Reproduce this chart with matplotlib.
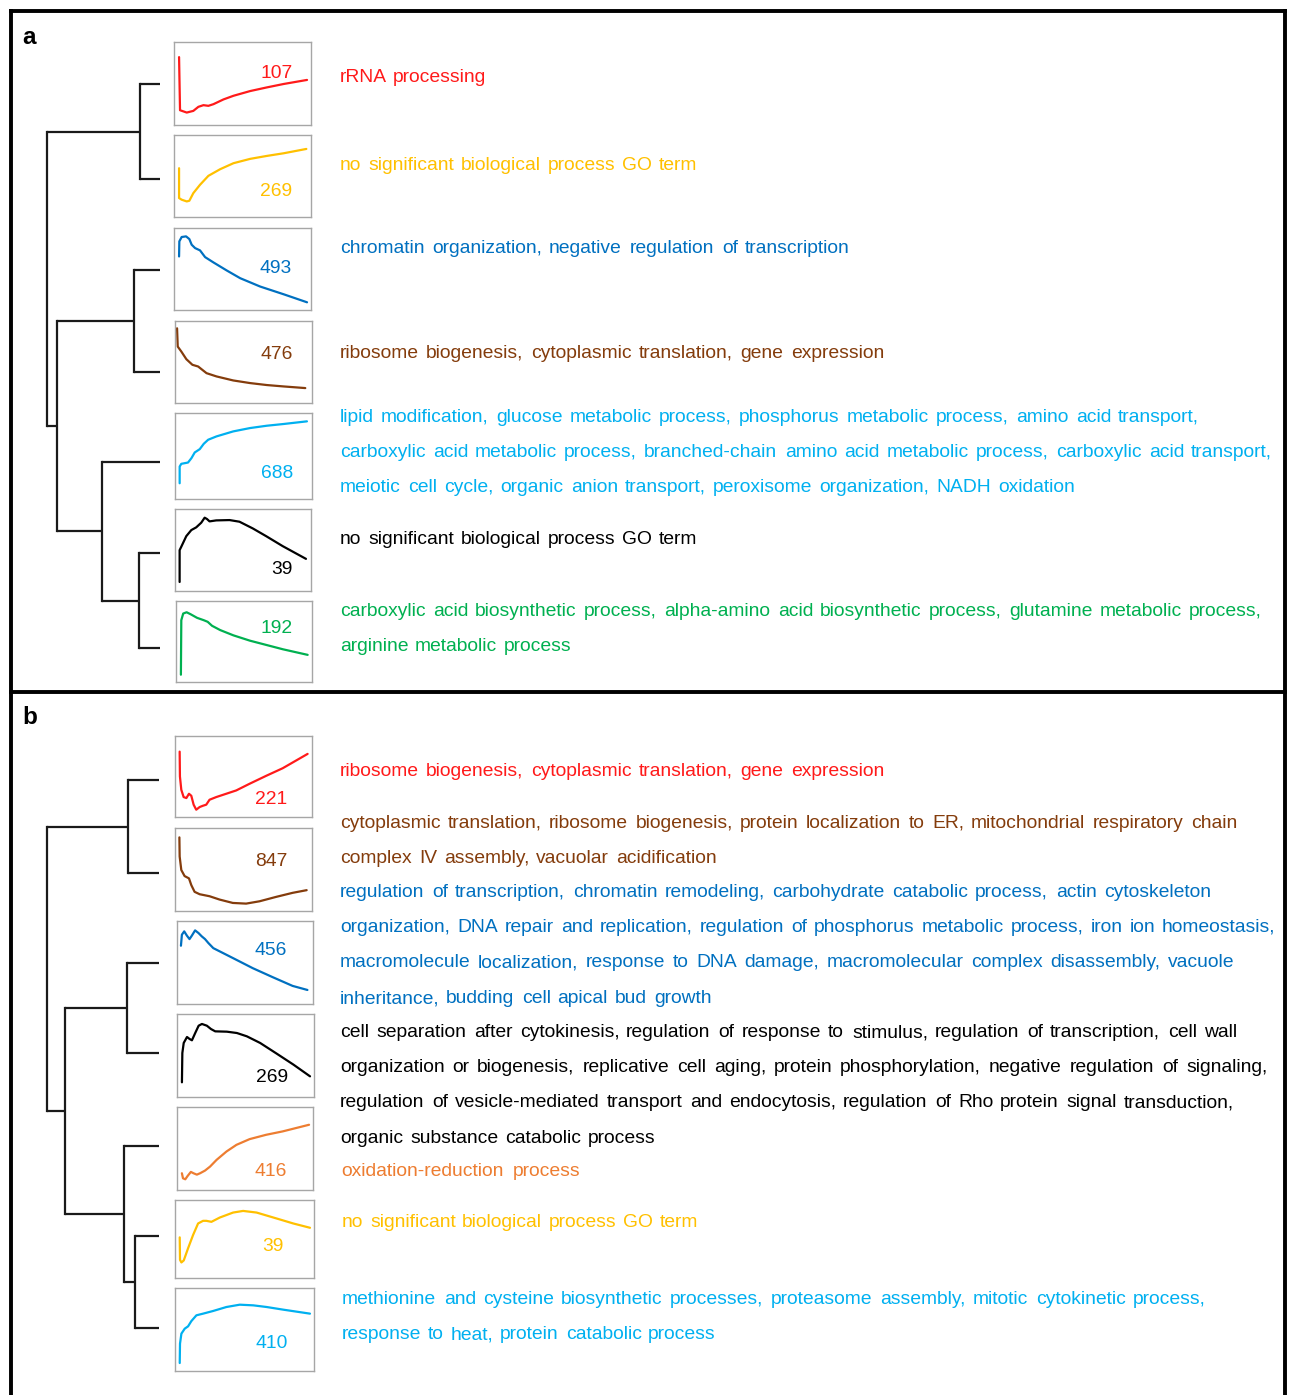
import matplotlib
matplotlib.use("Agg")
import matplotlib.pyplot as plt

plt.rcParams['font.family'] = ['Liberation Sans', 'DejaVu Sans']

W, H = 1293, 1395

RED = '#FF1A1A'
GOLD = '#FFC000'
BLUE = '#0070C0'
BROWN = '#843C0C'
CYAN = '#00B0F0'
GREEN = '#00B050'
ORANGE = '#ED7D31'
BLACK = '#000000'

# ---- panel a : mean expression profile of each cluster (time %, level %) ----
a1_t = [3.7, 4.4, 9.3, 14.1, 17.8, 21.5, 25.1, 28.8, 36.1, 43.4, 55.6, 67.8, 80.0, 97.1]
a1_v = [81.8, 17.8, 15.0, 17.0, 21.9, 23.9, 23.1, 25.1, 30.8, 35.2, 40.9, 45.3, 49.4, 54.3]
a2_t = [3.7, 3.7, 5.6, 9.3, 11.2, 14.1, 19.0, 25.1, 33.7, 43.4, 55.6, 67.8, 80.0, 96.6]
a2_v = [59.5, 23.1, 21.1, 19.0, 19.8, 29.1, 39.3, 50.2, 58.3, 65.6, 70.9, 74.5, 77.7, 83.0]
a3_t = [3.7, 3.9, 5.6, 8.8, 11.2, 12.9, 15.4, 19.0, 22.7, 28.8, 38.5, 48.3, 62.9, 80.0, 97.1]
a3_v = [65.3, 83.7, 89.0, 89.8, 86.5, 79.6, 75.5, 72.7, 64.5, 58.0, 48.2, 38.8, 28.6, 19.2, 9.4]
a4_t = [1.5, 2.0, 4.6, 8.3, 12.7, 16.9, 19.3, 23.0, 30.3, 42.5, 54.8, 67.0, 79.2, 95.1]
a4_v = [91.1, 68.8, 62.8, 53.4, 46.6, 44.5, 41.3, 36.4, 32.4, 27.5, 24.3, 21.9, 20.2, 18.2]
a5_t = [3.4, 3.4, 4.6, 9.5, 12.0, 14.4, 18.1, 21.0, 24.2, 30.3, 42.5, 54.8, 67.0, 79.2, 96.3]
a5_v = [18.3, 37.7, 40.9, 42.4, 47.5, 54.1, 58.0, 64.2, 68.9, 72.8, 78.6, 82.5, 85.2, 87.2, 90.3]
a6_t = [3.4, 3.4, 4.6, 8.3, 12.0, 15.6, 19.3, 21.8, 23.5, 25.4, 30.3, 40.1, 47.4, 57.2, 67.0, 79.2, 96.3]
a6_v = [11.0, 49.8, 53.9, 66.9, 74.3, 77.6, 83.3, 89.4, 87.8, 84.9, 86.1, 86.5, 84.5, 76.3, 66.9, 54.7, 39.2]
a7_t = [3.6, 3.9, 5.3, 7.8, 10.7, 15.5, 20.4, 23.3, 26.5, 32.5, 42.2, 54.4, 66.5, 78.6, 96.8]
a7_v = [9.0, 76.3, 84.5, 86.1, 83.7, 79.2, 76.3, 74.3, 69.4, 64.1, 57.6, 51.0, 45.7, 40.4, 33.5]

# ---- panel b ----
b1_t = [3.4, 3.6, 4.6, 6.3, 8.3, 10.2, 11.9, 13.6, 15.5, 18.0, 20.4, 22.8, 25.2, 30.1, 37.4, 44.7, 54.4, 66.5, 78.6, 96.8]
b1_v = [80.7, 50.0, 33.6, 24.6, 23.4, 28.7, 26.2, 15.2, 9.0, 12.3, 13.9, 15.2, 21.3, 24.6, 28.7, 32.8, 41.0, 50.8, 60.2, 77.9]
b2_t = [3.2, 3.4, 4.6, 7.0, 10.2, 11.9, 14.3, 18.0, 25.2, 32.5, 42.2, 51.9, 61.7, 73.8, 85.9, 96.1]
b2_v = [88.7, 65.6, 49.4, 42.1, 39.3, 31.2, 23.1, 20.2, 17.8, 13.8, 9.7, 8.9, 11.7, 17.0, 21.9, 25.1]
b3_t = [2.9, 3.6, 5.3, 7.3, 9.2, 10.9, 13.3, 15.8, 18.2, 20.6, 23.1, 26.7, 41.3, 55.8, 70.4, 85.0, 95.9]
b3_v = [70.2, 83.5, 87.5, 82.3, 78.2, 82.3, 88.7, 85.5, 81.5, 78.2, 73.4, 67.3, 55.2, 43.1, 32.3, 21.8, 16.9]
b4_t = [3.6, 3.9, 4.9, 7.3, 9.2, 10.9, 13.3, 15.8, 18.2, 21.8, 24.8, 27.9, 36.4, 43.7, 51.0, 60.7, 72.8, 85.0, 97.1]
b4_v = [17.7, 53.0, 65.1, 72.3, 69.9, 68.3, 77.1, 85.9, 88.0, 85.9, 81.9, 79.1, 78.7, 77.1, 73.1, 65.1, 52.2, 39.0, 24.9]
b5_t = [3.6, 4.4, 6.1, 7.8, 10.2, 12.1, 14.6, 17.0, 20.6, 24.3, 29.1, 36.4, 43.7, 53.4, 65.5, 77.7, 97.1]
b5_v = [20.2, 14.1, 12.9, 16.9, 21.8, 20.2, 18.5, 20.2, 23.4, 28.2, 36.3, 46.4, 54.4, 61.3, 66.5, 70.6, 78.6]
b6_t = [3.4, 3.6, 4.6, 6.3, 9.4, 13.0, 16.6, 20.2, 22.6, 26.2, 32.2, 41.8, 49.0, 58.7, 73.1, 85.1, 97.1]
b6_v = [52.1, 23.3, 19.9, 22.5, 38.1, 55.1, 69.9, 73.3, 73.3, 72.0, 77.5, 83.9, 86.0, 83.9, 76.3, 69.9, 64.4]
b7_t = [3.4, 3.6, 4.6, 7.0, 9.4, 11.8, 15.4, 20.2, 27.4, 37.0, 46.6, 56.3, 65.9, 77.9, 97.1]
b7_v = [9.6, 32.9, 45.0, 51.0, 53.8, 60.2, 67.1, 69.1, 72.3, 77.1, 79.9, 79.1, 77.1, 73.9, 69.1]

# genes per cluster
a_counts = [107, 269, 493, 476, 688, 39, 192]
b_counts = [221, 847, 456, 269, 416, 39, 410]

a_colors = [RED, GOLD, BLUE, BROWN, CYAN, BLACK, GREEN]
b_colors = [RED, BROWN, BLUE, BLACK, ORANGE, GOLD, CYAN]

# enriched GO biological process terms
a_terms = [
    ["rRNA processing"],
    ["no significant biological process GO term"],
    ["chromatin organization, negative regulation of transcription"],
    ["ribosome biogenesis, cytoplasmic translation, gene expression"],
    ["lipid modification, glucose metabolic process, phosphorus metabolic process, amino acid transport,",
     "carboxylic acid metabolic process, branched-chain amino acid metabolic process, carboxylic acid transport,",
     "meiotic cell cycle, organic anion transport, peroxisome organization, NADH oxidation"],
    ["no significant biological process GO term"],
    ["carboxylic acid biosynthetic process, alpha-amino acid biosynthetic process, glutamine metabolic process,",
     "arginine metabolic process"],
]
b_terms = [
    ["ribosome biogenesis, cytoplasmic translation, gene expression"],
    ["cytoplasmic translation, ribosome biogenesis, protein localization to ER, mitochondrial respiratory chain",
     "complex IV assembly, vacuolar acidification"],
    ["regulation of transcription, chromatin remodeling, carbohydrate catabolic process, actin cytoskeleton",
     "organization, DNA repair and replication, regulation of phosphorus metabolic process, iron ion homeostasis,",
     "macromolecule localization, response to DNA damage, macromolecular complex disassembly, vacuole",
     "inheritance, budding cell apical bud growth"],
    ["cell separation after cytokinesis, regulation of response to stimulus, regulation of transcription, cell wall",
     "organization or biogenesis, replicative cell aging, protein phosphorylation, negative regulation of signaling,",
     "regulation of vesicle-mediated transport and endocytosis, regulation of Rho protein signal transduction,",
     "organic substance catabolic process"],
    ["oxidation-reduction process"],
    ["no significant biological process GO term"],
    ["methionine and cysteine biosynthetic processes, proteasome assembly, mitotic cytokinetic process,",
     "response to heat, protein catabolic process"],
]

# dendrograms: (left, right, merge height), leaves are cluster indices
a_tree = ((0, 1, 20), ((2, 3, 26), (4, (5, 6, 21), 58), 103), 113)
b_tree = ((0, 1, 31), ((2, 3, 32), (4, (5, 6, 24), 35), 94), 112)

a_curves = [(a1_t, a1_v), (a2_t, a2_v), (a3_t, a3_v), (a4_t, a4_v), (a5_t, a5_v), (a6_t, a6_v), (a7_t, a7_v)]
b_curves = [(b1_t, b1_v), (b2_t, b2_v), (b3_t, b3_v), (b4_t, b4_v), (b5_t, b5_v), (b6_t, b6_v), (b7_t, b7_v)]

# ---- layout (pixels) ----
a_boxes = [(174, 42, 311, 125), (174, 135, 311, 217), (174, 228, 311, 310), (175, 321, 312, 403),
           (175, 413, 312, 499), (175, 509, 311, 591), (176, 601, 312, 682)]
b_boxes = [(175, 736, 312, 817), (175, 828, 312, 911), (177, 921, 313, 1004), (177, 1014, 314, 1097),
           (177, 1107, 313, 1190), (175, 1200, 314, 1278), (175, 1288, 314, 1371)]
a_numpos = [(74.6, 65), (74.6, 34), (74.1, 54), (74.3, 62), (74.3, 33), (78.7, 29), (74.3, 69)]
b_numpos = [(70.1, 25), (70.1, 63), (69.2, 67), (69.2, 26), (69.2, 25), (70.7, 44), (69.5, 36)]
a_leaf_y = [84, 179, 270, 372, 462, 553, 648]
b_leaf_y = [780, 873, 963, 1053, 1146, 1236, 1328]
# (x start, first line centre y, right end of each line)
a_textpos = [(340, 75, [486]), (340, 163, [697]), (340, 246, [850]), (340, 351, [884]),
             (340, 415, [1199, 1272, 1075]), (340, 537, [697]), (340, 609, [1262, 572])]
b_textpos = [(340, 769, [884]), (340, 821, [1237, 717]), (340, 890, [1211, 1276, 1234, 711]),
             (340, 1030, [1237, 1267, 1234, 656]), (341, 1169, [581]), (342, 1220, [698]),
             (342, 1297, [1206, 716])]
LINE_H = 35.2
FS = 13.9

fig = plt.figure(figsize=(W / 100, H / 100), dpi=100)
ax = fig.add_axes([0, 0, 1, 1])
ax.set_xlim(0, W)
ax.set_ylim(H, 0)
ax.axis('off')
renderer = fig.canvas.get_renderer()

# frame
ax.plot([11, 11], [H + 5, 11], color='black', lw=2.8, solid_capstyle='projecting')
ax.plot([11, 1284.5], [11, 11], color='black', lw=2.8, solid_capstyle='projecting')
ax.plot([1284.5, 1284.5], [11, H + 5], color='black', lw=2.8, solid_capstyle='projecting')
ax.plot([11, 1284.5], [692, 692], color='black', lw=2.8)
ax.text(22, 44, 'a', fontsize=17.5, fontweight='bold', va='baseline')
ax.text(22, 724, 'b', fontsize=17.5, fontweight='bold', va='baseline')


def node_y(node, leaf_y):
    if isinstance(node, int):
        return leaf_y[node]
    return (node_y(node[0], leaf_y) + node_y(node[1], leaf_y)) / 2


def draw_tree(node, tip, leaf_y):
    # returns the x of this node; draws the stems of its children and its own bar
    if isinstance(node, int):
        return tip
    left, right, h = node
    x = tip - h
    ys = []
    for child in (left, right):
        cx = draw_tree(child, tip, leaf_y)
        cy = node_y(child, leaf_y)
        ax.plot([cx, x], [cy, cy], color='#1a1a1a', lw=1.6, solid_capstyle='butt')
        ys.append(cy)
    ax.plot([x, x], ys, color='#1a1a1a', lw=1.6, solid_capstyle='projecting')
    return x


def justified(x0, y, x1, line, color):
    words = line.split()
    y = round(y)
    ts = [ax.text(0, y, w, fontsize=FS, color=color, va='baseline') for w in words]
    widths = [t.get_window_extent(renderer).width for t in ts]
    gap = (x1 - x0 - sum(widths)) / max(len(words) - 1, 1)
    x = x0
    for t, w in zip(ts, widths):
        t.set_x(round(x))
        x += w + gap


def panel(boxes, curves, counts, colors, numpos, tree, tip, leaf_y, terms, textpos):
    for i, (x0, y0, x1, y1) in enumerate(boxes):
        bx = fig.add_axes([x0 / W, 1 - y1 / H, (x1 - x0) / W, (y1 - y0) / H])
        bx.set_xlim(0, 100)
        bx.set_ylim(0, 100)
        bx.set_xticks([])
        bx.set_yticks([])
        for s in bx.spines.values():
            s.set_color('#A6A6A6')
            s.set_linewidth(1.0)
        t, v = curves[i]
        bx.plot(t, v, color=colors[i], lw=1.6, solid_joinstyle='round', solid_capstyle='round')
        nx, ny = numpos[i]
        bx.text(nx, ny - 7.0 / (y1 - y0) * 100, str(counts[i]), fontsize=FS,
                color=colors[i], ha='center', va='baseline')
    draw_tree(tree, tip, leaf_y)
    for i, lines in enumerate(terms):
        x0, yc, ends = textpos[i]
        for k, line in enumerate(lines):
            justified(x0, yc + 7 + k * LINE_H, ends[k], line, colors[i])


panel(a_boxes, a_curves, a_counts, a_colors, a_numpos, a_tree, 160, a_leaf_y, a_terms, a_textpos)
panel(b_boxes, b_curves, b_counts, b_colors, b_numpos, b_tree, 159, b_leaf_y, b_terms, b_textpos)

fig.savefig('out.png', dpi=100)
